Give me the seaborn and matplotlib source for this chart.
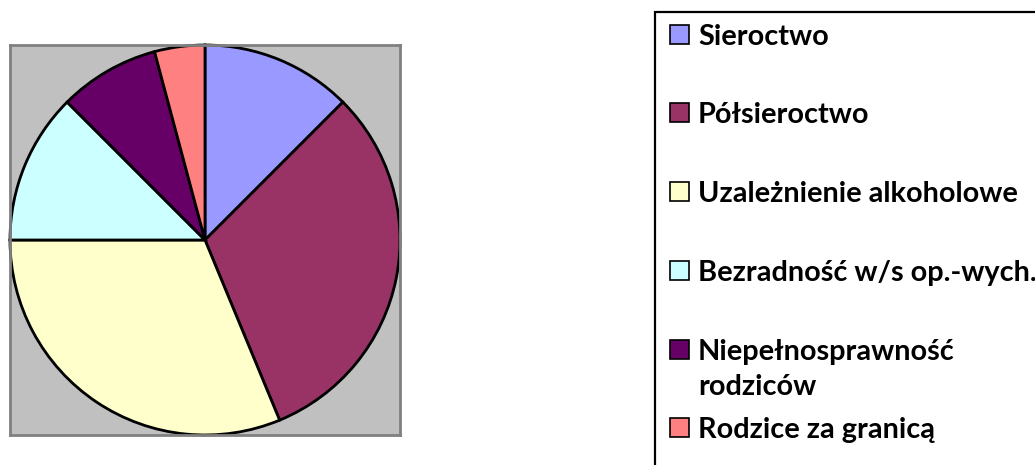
import matplotlib
matplotlib.use("Agg")
import matplotlib.pyplot as plt
import matplotlib.patches as mpatches
import seaborn as sns

labels = ["Sieroctwo", "Półsieroctwo", "Uzależnienie alkoholowe",
          "Bezradność w/s op.-wych.", "Niepełnosprawność\nrodziców", "Rodzice za granicą"]
values = [6, 15, 15, 6, 4, 2]
colors = ["#9999FF", "#993366", "#FFFFCC", "#CCFFFF", "#660066", "#FF8080"]

sns.set_theme(style="white")
plt.rcParams['font.family'] = ['Lato', 'DejaVu Sans']

W, H = 1035, 465
fig = plt.figure(figsize=(W / 100, H / 100), dpi=100)
fig.patch.set_facecolor("white")

# plot area (grey square)
ax = fig.add_axes([10 / W, (H - 435) / H, 390 / W, 390 / H])
ax.pie(values, colors=sns.color_palette(colors), startangle=90, counterclock=False,
       radius=1.0, frame=True, wedgeprops=dict(edgecolor="black", linewidth=2.0))
ax.set_frame_on(True)
ax.set_facecolor("#C0C0C0")
for s in ax.spines.values():
    s.set_visible(True)
    s.set_color("#808080")
    s.set_linewidth(2)
ax.set_xlim(-1.0, 1.0)
ax.set_ylim(-1.0, 1.0)
ax.set_aspect("auto")
ax.set_xticks([])
ax.set_yticks([])

# legend box
fig.patches.append(mpatches.Rectangle((655 / W, -0.05), 1.0, (H - 12) / H + 0.05,
                                      transform=fig.transFigure, facecolor="white",
                                      edgecolor="black", linewidth=1.6, clip_on=False))
baselines = [45, 123, 202, 281, 360, 438]
sq = 19
for lab, col, b in zip(labels, colors, baselines):
    fig.patches.append(mpatches.Rectangle((670 / W, (H - b + 1) / H), sq / W, sq / H,
                                          transform=fig.transFigure, facecolor=col,
                                          edgecolor="black", linewidth=1.2))
    lines = lab.split("\n")
    for i, ln in enumerate(lines):
        fig.text(698 / W, (H - b - i * 35) / H, ln, fontsize=20.8, fontweight="bold",
                 ha="left", va="baseline", color="black")

fig.savefig("out.png", dpi=100)
